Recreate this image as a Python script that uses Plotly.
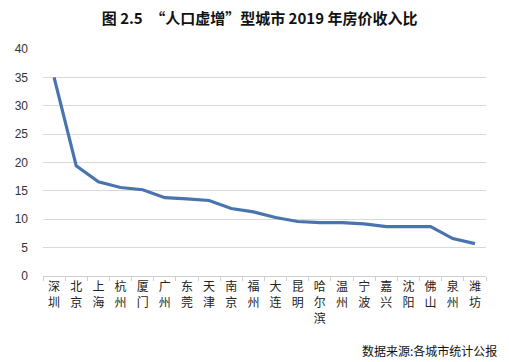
import plotly.graph_objects as go

cities = ["深圳", "北京", "上海", "杭州", "厦门", "广州", "东莞", "天津", "南京", "福州",
          "大连", "昆明", "哈尔滨", "温州", "宁波", "嘉兴", "沈阳", "佛山", "泉州", "潍坊"]
ratios = [35.0, 19.4, 16.6, 15.6, 15.2, 13.8, 13.6, 13.3, 11.9, 11.3,
          10.3, 9.6, 9.4, 9.4, 9.2, 8.7, 8.7, 8.7, 6.6, 5.7]
y_ticks = [0, 5, 10, 15, 20, 25, 30, 35, 40]

tick_text = ["<br>".join(list(c)) for c in cities]

fig = go.Figure()
fig.add_trace(go.Scatter(
    x=cities, y=ratios, mode="lines",
    line=dict(color="#4a74ad", width=3.2),
    hoverinfo="skip",
))

font_cjk = "Noto Sans CJK SC, Noto Sans, sans-serif"

fig.update_layout(
    width=509, height=362,
    margin=dict(l=43, r=23, t=49, b=86, autoexpand=False),
    paper_bgcolor="white", plot_bgcolor="white",
    showlegend=False,
    title=dict(
        text="<b>图 2.5　“人口虚增”型城市 2019 年房价收入比</b>",
        x=0.51, xanchor="center", y=0.948, yanchor="middle",
        font=dict(family=font_cjk, size=15, color="#111111"),
    ),
    xaxis=dict(
        tickmode="array", tickvals=cities, ticktext=tick_text,
        tickson="boundaries", ticks="outside", ticklen=4, tickcolor="#d0d0d0",
        showline=True, linecolor="#d0d0d0", linewidth=1,
        showgrid=False, automargin=False,
        tickfont=dict(family=font_cjk, size=12, color="#222222"),
        range=[-0.5, len(cities) - 0.5],
        fixedrange=True,
    ),
    yaxis=dict(
        range=[0, 40], tickvals=y_ticks,
        showgrid=True, gridcolor="#d9d9d9", gridwidth=1,
        zeroline=False, showline=False, ticks="", automargin=False,
        tickfont=dict(family="Liberation Sans, Arial, sans-serif", size=12, color="#333333"),
        ticklabelstandoff=14,
        fixedrange=True,
    ),
    annotations=[dict(
        text="数据来源:各城市统计公报", xref="paper", yref="paper",
        x=1.03, y=-0.28, xanchor="right", yanchor="top", showarrow=False,
        font=dict(family=font_cjk, size=12, color="#111111"),
    )],
)

fig.write_html("out.html", config={"displayModeBar": False},
               post_script="document.body.style.margin='0';")
